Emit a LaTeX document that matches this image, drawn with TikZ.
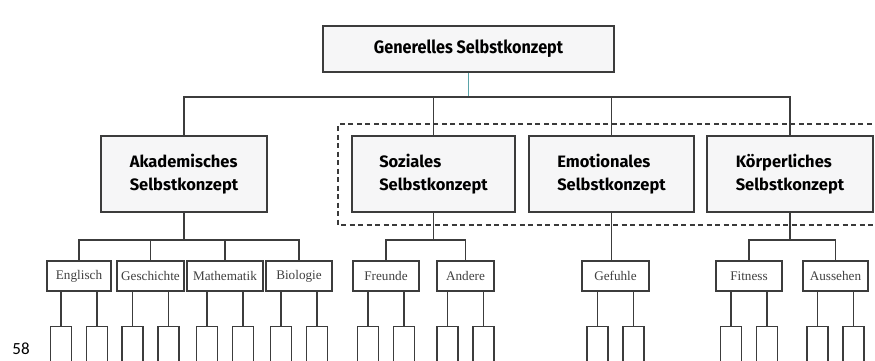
\documentclass[tikz,border=0pt]{standalone}
\usepackage{fontspec}
\setmainfont{Liberation Serif}
\newfontfamily\catfont{Fira Sans}
\newfontfamily\numfont{Carlito}
\definecolor{linec}{HTML}{3C3C3C}
\definecolor{boxfill}{HTML}{F6F6F7}
\definecolor{tealc}{HTML}{5AA3A8}
\definecolor{dashc}{HTML}{3A3A3A}
\tikzset{
  conn/.style={draw=linec, line width=1.1pt},
  topbox/.style={draw=linec, fill=boxfill, line width=1.3pt, minimum width=291pt, minimum height=46pt, inner sep=0pt,
    font=\catfont\bfseries\fontsize{18}{20}\selectfont},
  catbox/.style={draw=linec, fill=boxfill, line width=1.3pt, minimum height=76pt, inner sep=0pt, align=left,
    font=\catfont\bfseries\fontsize{16.5}{23}\selectfont},
  subbox/.style={draw=linec, fill=white, line width=1.2pt, minimum height=30pt, inner sep=0pt,
    font=\fontsize{13.2}{15}\selectfont, text=black!75},
  leafbox/.style={draw=linec, fill=white, line width=1.1pt, minimum width=21pt, minimum height=48pt, inner sep=0pt, anchor=north},
  frame/.style={draw=dashc, line width=1.1pt, dash pattern=on 5pt off 3.5pt}
}
\begin{document}
\begin{tikzpicture}[x=1pt,y=-1pt]
\useasboundingbox (0,0) rectangle (875,360);
\clip (0,0) rectangle (875,360);
\fill[white] (0,0) rectangle (875,360);
% dashed frame
\draw[frame] (880,124) -- (338,124) -- (338,225) -- (880,225);
% coordinates
\coordinate (b0) at (0,97);
\coordinate (b1) at (0,240);
\coordinate (lt) at (0,326);
% nodes
\node[topbox] (top) at (468.5,49) {\scalebox{0.9}[1]{Generelles Selbstkonzept}};
\node[catbox, minimum width=166pt] (aka) at (184,174) {Akademisches\\Selbstkonzept};
\node[catbox, minimum width=163pt] (soz) at (433.5,174) {Soziales\\Selbstkonzept};
\node[catbox, minimum width=165pt] (emo) at (611.5,174) {Emotionales\\Selbstkonzept};
\node[catbox, minimum width=166pt] (koe) at (790,174) {Körperliches\\Selbstkonzept};
\node[subbox, minimum width=64pt] (eng) at (79,276) {Englisch};
\node[subbox, minimum width=67pt] (ges) at (150.5,276) {Geschichte};
\node[subbox, minimum width=76pt] (mat) at (225,276) {Mathematik};
\node[subbox, minimum width=66pt] (bio) at (299,276) {Biologie};
\node[subbox, minimum width=66pt] (fre) at (386,276) {Freunde};
\node[subbox, minimum width=57pt] (and) at (465.5,276) {Andere};
\node[subbox, minimum width=67pt] (gef) at (615.5,276) {Gefuhle};
\node[subbox, minimum width=66pt] (fit) at (749,276) {Fitness};
\node[subbox, minimum width=65pt] (aus) at (835.5,276) {Aussehen};
\node[font=\numfont\fontsize{17}{17}\selectfont] (pg) at (21,349) {58};
% leaves
\foreach \s in {eng,ges,mat,bio,fre,and,gef,fit,aus}{
  \node[leafbox] (\s-l) at ([xshift=-18pt]\s.south |- lt) {};
  \node[leafbox] (\s-r) at ([xshift=18pt]\s.south |- lt) {};
  \draw[conn] (\s-l.north) -- (\s-l.north |- \s.south);
  \draw[conn] (\s-r.north) -- (\s-r.north |- \s.south);
}
% top level connectors
\draw[conn, draw=tealc] (top.south) -- (top.south |- b0);
\draw[conn] (aka.north) |- (koe.north |- b0) -- (koe.north);
\draw[conn] (soz.north) -- (soz.north |- b0);
\draw[conn] (emo.north) -- (emo.north |- b0);
% Akademisch
\draw[conn] (aka.south) -- (aka.south |- b1);
\draw[conn] (eng.north) |- (bio.north |- b1) -- (bio.north);
\draw[conn] (ges.north) -- (ges.north |- b1);
\draw[conn] (mat.north) -- (mat.north |- b1);
% Sozial
\draw[conn] (soz.south) -- (soz.south |- b1);
\draw[conn] (fre.north) |- (and.north |- b1) -- (and.north);
% Emotional
\draw[conn] (emo.south) -- (emo.south |- gef.north);
% Koerperlich
\draw[conn] (koe.south) -- (koe.south |- b1);
\draw[conn] (fit.north) |- (aus.north |- b1) -- (aus.north);
% redraw boxes on top of connectors
\node[topbox] at (top) {\scalebox{0.9}[1]{Generelles Selbstkonzept}};
\node[catbox, minimum width=166pt] at (aka) {Akademisches\\Selbstkonzept};
\node[catbox, minimum width=163pt] at (soz) {Soziales\\Selbstkonzept};
\node[catbox, minimum width=165pt] at (emo) {Emotionales\\Selbstkonzept};
\node[catbox, minimum width=166pt] at (koe) {Körperliches\\Selbstkonzept};
\end{tikzpicture}
\end{document}
